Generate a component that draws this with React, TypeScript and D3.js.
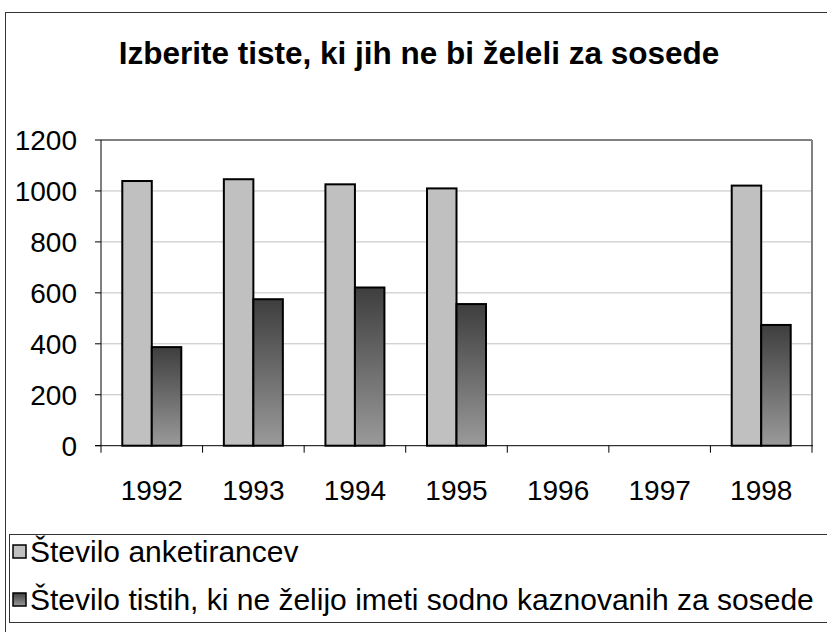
import React from "react";
import * as d3 from "d3";

const years = ["1992", "1993", "1994", "1995", "1996", "1997", "1998"];
const respondents: (number | null)[] = [1039, 1046, 1026, 1010, null, null, 1021];
const notWanting: (number | null)[] = [387, 575, 621, 556, null, null, 474];
const yTicks = [0, 200, 400, 600, 800, 1000, 1200];
const seriesNames = [
  "Število anketirancev",
  "Število tistih, ki ne želijo imeti sodno kaznovanih za sosede",
];
const title = "Izberite tiste, ki jih ne bi želeli za sosede";

export default function App() {
  const W = 827, H = 632;
  const left = 101, right = 812, top = 140, bottom = 445.7;
  const x = d3.scaleBand<string>().domain(years).range([left, right]).paddingInner(0).paddingOuter(0);
  const y = d3.scaleLinear().domain([0, 1200]).range([bottom, top]);
  const groupW = 59;
  const sub = d3.scaleBand<string>().domain(["a", "b"]).range([0, groupW]);
  const series = [respondents, notWanting];
  const fills = ["#c0c0c0", "url(#darkGrad)"];
  const font = "Liberation Sans, Arial, sans-serif";

  return (
    <svg width={W} height={H} style={{ position: "absolute", left: 0, top: 0, background: "#fff" }}>
      <defs>
        <linearGradient id="darkGrad" x1="0" y1="0" x2="0" y2="1">
          <stop offset="0" stopColor="#3e3e3e" />
          <stop offset="1" stopColor="#9a9a9a" />
        </linearGradient>
      </defs>
      <rect x={0} y={0} width={W} height={H} fill="#fff" />
      {/* outer frame */}
      <rect x={5.5} y={12.5} width={W + 10} height={H + 10} fill="none" stroke="#333" strokeWidth={1} />
      <text x={419} y={64} textAnchor="middle" fontFamily={font} fontWeight="bold" fontSize={31.5} fill="#000">
        {title}
      </text>
      {/* gridlines */}
      {yTicks.filter((t) => t > 0).map((t) => (
        <line key={t} x1={left} x2={right} y1={y(t)} y2={y(t)} stroke="#c0c0c0" strokeWidth={1} />
      ))}
      {/* plot border top/right */}
      <line x1={left} x2={right} y1={top} y2={top} stroke="#808080" strokeWidth={2} />
      <line x1={right} x2={right} y1={top} y2={bottom} stroke="#808080" strokeWidth={2} />
      {/* bars */}
      {years.map((yr, i) => {
        const cx = (x(yr) as number) + x.bandwidth() / 2;
        const gx = cx - groupW / 2;
        return series.map((s, si) => {
          const v = s[i];
          if (v == null) return null;
          return (
            <rect
              key={yr + si}
              x={gx + (sub(si === 0 ? "a" : "b") as number)}
              y={y(v)}
              width={sub.bandwidth()}
              height={y(0) - y(v)}
              fill={fills[si]}
              stroke="#000"
              strokeWidth={2}
            />
          );
        });
      })}
      {/* axes */}
      <line x1={left} x2={left} y1={top} y2={bottom} stroke="#000" strokeWidth={1} />
      <line x1={left - 6} x2={right + 1} y1={bottom} y2={bottom} stroke="#000" strokeWidth={1} />
      {yTicks.map((t) => (
        <g key={t}>
          <line x1={left - 6} x2={left} y1={y(t)} y2={y(t)} stroke="#000" strokeWidth={1} />
          <text x={77} y={y(t)} dy="0.36em" textAnchor="end" fontFamily={font} fontSize={28} fill="#000">
            {t}
          </text>
        </g>
      ))}
      {years.map((yr) => (
        <line key={"t" + yr} x1={x(yr) as number} x2={x(yr) as number} y1={bottom} y2={bottom + 7} stroke="#000" strokeWidth={1} />
      ))}
      <line x1={right} x2={right} y1={bottom} y2={bottom + 7} stroke="#000" strokeWidth={1} />
      {years.map((yr) => (
        <text key={"l" + yr} x={(x(yr) as number) + x.bandwidth() / 2} y={499.5} textAnchor="middle" fontFamily={font} fontSize={28} fill="#000">
          {yr}
        </text>
      ))}
      {/* legend */}
      <rect x={9.5} y={534.5} width={W} height={88} fill="#fff" stroke="#333" strokeWidth={1} />
      {seriesNames.map((n, i) => (
        <g key={n}>
          <rect x={13} y={545 + i * 48} width={13} height={13} fill={fills[i]} stroke="#000" strokeWidth={1.5} />
          <text x={30} y={562 + i * 48} fontFamily={font} fontSize={30} fill="#000">
            {n}
          </text>
        </g>
      ))}
    </svg>
  );
}
